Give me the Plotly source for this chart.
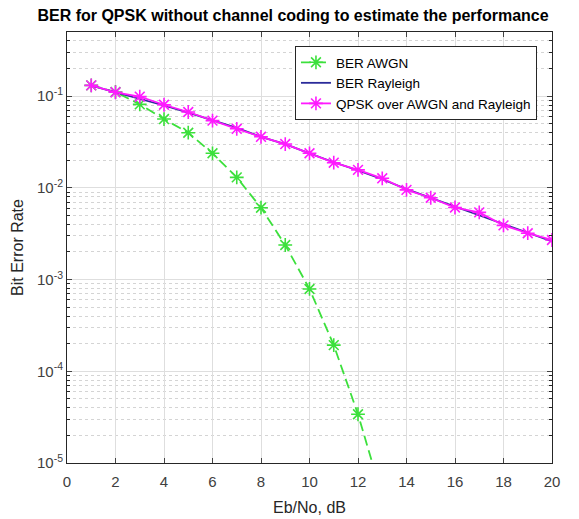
import plotly.graph_objects as go

ebno_db = list(range(1, 21))

ber_awgn_x = list(range(1, 14))
ber_awgn = [0.131, 0.111, 0.0813, 0.0562, 0.0399, 0.0238, 0.0130, 0.00607,
            0.00238, 0.00079, 0.000193, 0.000034, 0.0000043]

ber_rayleigh = [0.130, 0.110, 0.094, 0.079, 0.066, 0.054, 0.045, 0.036, 0.030,
                0.0238, 0.0190, 0.0155, 0.0124, 0.0097, 0.0078, 0.0062, 0.0050,
                0.0040, 0.0032, 0.0026]

ber_sim = [0.131, 0.110, 0.0986, 0.0805, 0.0671, 0.054, 0.044, 0.036, 0.030,
           0.0238, 0.0188, 0.0157, 0.0127, 0.0095, 0.0078, 0.0061, 0.0054,
           0.0039, 0.0032, 0.0027]

x_ticks = list(range(0, 21, 2))
y_ticks = [1e-5, 1e-4, 1e-3, 1e-2, 1e-1]
y_ticktext = ["10<sup>-5</sup>", "10<sup>-4</sup>", "10<sup>-3</sup>",
              "10<sup>-2</sup>", "10<sup>-1</sup>"]

minor_vals = []
for dec in y_ticks:
    for m in range(2, 10):
        v = dec * m
        if v <= 0.5:
            minor_vals.append(v)

green = "#3ce03c"
magenta = "#ff1aff"
navy = "#2b2b9a"
axis_col = "#262626"

fig = go.Figure()
fig.add_trace(go.Scatter(
    x=ber_awgn_x, y=ber_awgn, name="BER AWGN", mode="lines+markers",
    line=dict(color=green, width=1.8, dash="10px,5px"),
    marker=dict(symbol="asterisk-open", size=11.5, color=green,
                line=dict(color=green, width=1.6)),
))
fig.add_trace(go.Scatter(
    x=ebno_db, y=ber_rayleigh, name="BER Rayleigh", mode="lines",
    line=dict(color=navy, width=1.8),
))
fig.add_trace(go.Scatter(
    x=ebno_db, y=ber_sim, name="QPSK over AWGN and Rayleigh", mode="lines+markers",
    line=dict(color=magenta, width=1.8),
    marker=dict(symbol="asterisk-open", size=11.5, color=magenta,
                line=dict(color=magenta, width=1.6)),
))

fig.update_layout(
    width=571, height=511,
    margin=dict(l=59, r=27, t=24, b=56, autoexpand=False),
    paper_bgcolor="white", plot_bgcolor="white",
    font=dict(family="Liberation Sans, Arial, sans-serif", size=14, color=axis_col),
    title=dict(text="<b>BER for QPSK without channel coding to estimate the performance</b>",
               x=0.466, xref="paper", xanchor="center", y=0.986, yanchor="middle",
               font=dict(size=16, color="black"), automargin=False),
    showlegend=True,
    legend=dict(x=0.969, y=0.9675, xanchor="right", yanchor="top",
                bgcolor="white", bordercolor="#262626", borderwidth=1,
                font=dict(size=13.5, color="black"), tracegroupgap=0, itemwidth=30),
    xaxis=dict(range=[0, 20], tickvals=x_ticks, ticks="inside", ticklen=5,
               showline=True, linecolor=axis_col, linewidth=1, mirror="ticks",
               showgrid=True, gridcolor="#dedede", gridwidth=1, zeroline=False,
               automargin=False,
               tickfont=dict(size=15, color="#404040"), ticklabelstandoff=5,
               title=dict(text="Eb/No, dB", font=dict(size=16, color="#262626"), standoff=12)),
    yaxis=dict(type="log", range=[-5, -0.30103], tickvals=y_ticks, ticktext=y_ticktext,
               ticks="inside", ticklen=5, showline=True, linecolor=axis_col, linewidth=1,
               mirror="ticks", showgrid=True, gridcolor="#dedede", gridwidth=1,
               zeroline=False, automargin=False, tickfont=dict(size=15, color="#404040"),
               minor=dict(tickvals=minor_vals, ticks="inside", ticklen=3,
                          tickcolor=axis_col, showgrid=True, gridcolor="#d4d4d4",
                          griddash="dot", gridwidth=1),
               title=dict(text="Bit Error Rate", font=dict(size=16, color="#262626"), standoff=9)),
)

fig.write_html("out.html")
